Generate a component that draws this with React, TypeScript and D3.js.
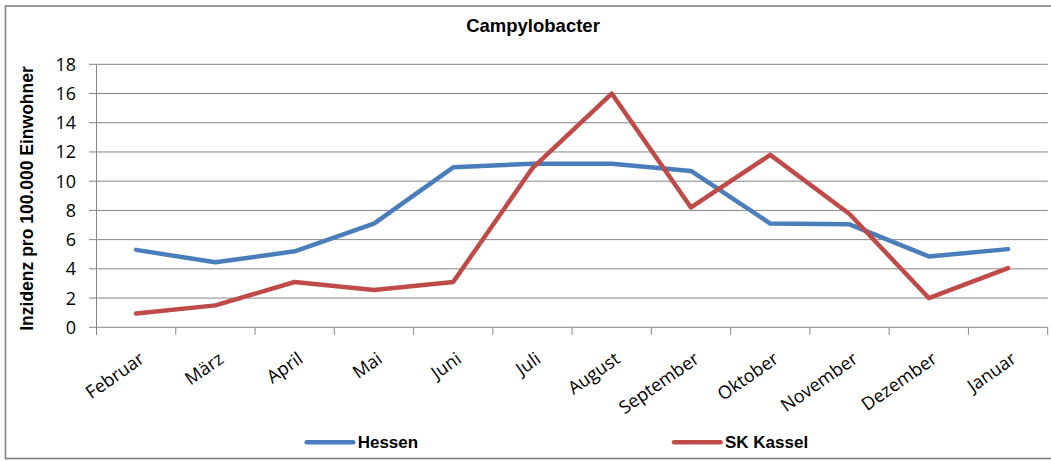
import React from "react";
import * as d3 from "d3";

const months = ["Februar", "März", "April", "Mai", "Juni", "Juli", "August", "September", "Oktober", "November", "Dezember", "Januar"];
const hessen = [5.3, 4.45, 5.2, 7.1, 10.95, 11.2, 11.2, 10.7, 7.1, 7.05, 4.85, 5.35];
const kassel = [0.95, 1.5, 3.1, 2.55, 3.1, 10.9, 16.0, 8.2, 11.8, 7.75, 2.0, 4.05];
const yTicks = [0, 2, 4, 6, 8, 10, 12, 14, 16, 18];
const seriesNames = ["Hessen", "SK Kassel"];

const W = 1051;
const H = 460;
const left = 96.5;
const right = 1047.7;
const top = 64.3;
const bottom = 327.3;
const gridColor = "#868686";
const colors = ["#4A7EBB", "#BE4B48"];

export default function App() {
  const x = d3.scaleBand<string>().domain(months).range([left, right]).paddingInner(0).paddingOuter(0);
  const y = d3.scaleLinear().domain([0, 18]).range([bottom, top]);
  const cx = (m: string) => (x(m) as number) + x.bandwidth() / 2;
  const line = d3
    .line<number>()
    .x((_, i) => cx(months[i]))
    .y((v) => y(v));
  const series = [hessen, kassel];
  const boundaries = months.map((m) => x(m) as number).concat([right]);
  const legendX = [306.7, 674];

  return (
    <svg width={W} height={H} style={{ position: "absolute", left: 0, top: 0, background: "#fff" }}>
      <rect x={5.5} y={6} width={1060} height={452.5} fill="#fff" stroke="#7f7f7f" strokeWidth={1.6} />
      <text x={533} y={31.7} textAnchor="middle" fontFamily="Liberation Sans, Arial, sans-serif" fontWeight="bold" fontSize={18.5} fill="#000">
        Campylobacter
      </text>
      {yTicks.map((t) => (
        <g key={t}>
          <line x1={89} x2={right} y1={y(t)} y2={y(t)} stroke={gridColor} strokeWidth={1} />
          <text x={76} y={y(t)} dy="0.36em" textAnchor="end" fontFamily="Open Sans, sans-serif" fontSize={18} fill="#000">
            {t}
          </text>
        </g>
      ))}
      <line x1={left} x2={left} y1={top} y2={bottom + 7.5} stroke={gridColor} strokeWidth={1} />
      {boundaries.map((b, i) => (
        <line key={i} x1={b} x2={b} y1={bottom} y2={bottom + 7.5} stroke={gridColor} strokeWidth={1} />
      ))}
      {months.map((m) => (
        <text
          key={m}
          transform={`translate(${cx(m) + 2},${351}) rotate(-35)`}
          dy="0.72em"
          textAnchor="end"
          fontFamily="Open Sans, sans-serif"
          fontSize={18}
          fill="#000"
        >
          {m}
        </text>
      ))}
      <text
        transform={`translate(32.5,198.5) rotate(-90)`}
        textAnchor="middle"
        fontFamily="Liberation Sans, Arial, sans-serif"
        fontWeight="bold"
        fontSize={17.5}
        fill="#000"
      >
        Inzidenz pro 100.000 Einwohner
      </text>
      {series.map((s, i) => (
        <path key={i} d={line(s) || ""} fill="none" stroke={colors[i]} strokeWidth={4.5} strokeLinejoin="round" strokeLinecap="round" />
      ))}
      {seriesNames.map((n, i) => (
        <g key={n}>
          <line x1={legendX[i]} x2={legendX[i] + 46.6} y1={442.3} y2={442.3} stroke={colors[i]} strokeWidth={4.5} strokeLinecap="round" />
          <text x={legendX[i] + 51} y={448.3} fontFamily="Liberation Sans, Arial, sans-serif" fontWeight="bold" fontSize={17} fill="#000">
            {n}
          </text>
        </g>
      ))}
    </svg>
  );
}
